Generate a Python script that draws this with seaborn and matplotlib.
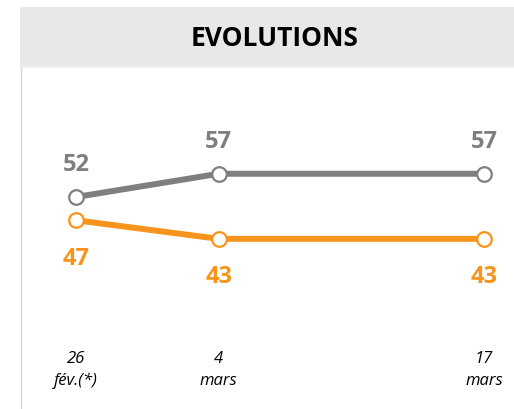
import matplotlib
matplotlib.use("Agg")
import matplotlib.pyplot as plt
from matplotlib.patches import Rectangle
from matplotlib.lines import Line2D
import seaborn as sns
import pandas as pd

# Data
dates = ["2024-02-26", "2024-03-04", "2024-03-17"]
tick_labels = ["26\nfév.(*)", "4\nmars", "17\nmars"]
gray_values = [52, 57, 57]
orange_values = [47, 43, 43]
series_names = ["Série grise", "Série orange"]

GRAY = "#7f7f7f"
ORANGE = "#f7941d"

sns.set_theme(style="white")
plt.rcParams["font.family"] = ["Open Sans", "DejaVu Sans"]

d = pd.to_datetime(dates)
days = [(x - d[0]).days for x in d]

df = pd.DataFrame({
    "day": days * 2,
    "value": gray_values + orange_values,
    "serie": [series_names[0]] * 3 + [series_names[1]] * 3,
})

W, H = 514, 410
fig = plt.figure(figsize=(W / 100, H / 100), dpi=100)

# header band
fig.patches.append(Rectangle((20 / W, (H - 67) / H), 1 - 20 / W, 59 / H,
                             transform=fig.transFigure, facecolor="#e8e8e8",
                             edgecolor="none", zorder=0))
fig.lines.append(Line2D([20 / W, 1], [(H - 68) / H, (H - 68) / H],
                        transform=fig.transFigure, color="#f2f2f2", lw=1.5))
fig.lines.append(Line2D([20.5 / W, 20.5 / W], [0, (H - 68) / H],
                        transform=fig.transFigure, color="#d9d9d9", lw=1))
fig.text(275 / W, 1 - 39 / H, "EVOLUTIONS", ha="center", va="center",
         fontsize=19, fontweight="bold", color="black")

ax = fig.add_axes([20 / W, (H - 340) / H, 1 - 20 / W, 272 / H])
ax.patch.set_alpha(0)

sns.lineplot(data=df, x="day", y="value", hue="serie",
             palette=[GRAY, ORANGE], lw=4.3, marker="o", markersize=10.5,
             markerfacecolor="white", markeredgewidth=1.6, ax=ax,
             legend=False)
for line, col in zip(ax.lines, [GRAY, ORANGE]):
    line.set_markeredgecolor(col)

px_day = 408 / days[-1]
ax.set_xlim(-56 / px_day, days[-1] + 30 / px_day)
ax.set_ylim(52 - 142 / 4.65, 52 + 130 / 4.65)

for x, v in zip(days, gray_values):
    ax.annotate(str(v), (x, v), xytext=(0, 23.5), textcoords="offset points",
                ha="center", va="center", fontsize=17, fontweight="bold",
                color=GRAY)
for x, v in zip(days, orange_values):
    ax.annotate(str(v), (x, v), xytext=(0, -27), textcoords="offset points",
                ha="center", va="center", fontsize=17, fontweight="bold",
                color=ORANGE)

ax.set_xticks(days)
ax.set_xticklabels(tick_labels, fontsize=12, fontstyle="italic",
                   color="black", linespacing=1.45)
ax.tick_params(axis="x", length=0, pad=8)
ax.set_yticks([])
ax.set_xlabel("")
ax.set_ylabel("")
for s in ax.spines.values():
    s.set_visible(False)

fig.savefig("out.png", dpi=100, facecolor="white")
